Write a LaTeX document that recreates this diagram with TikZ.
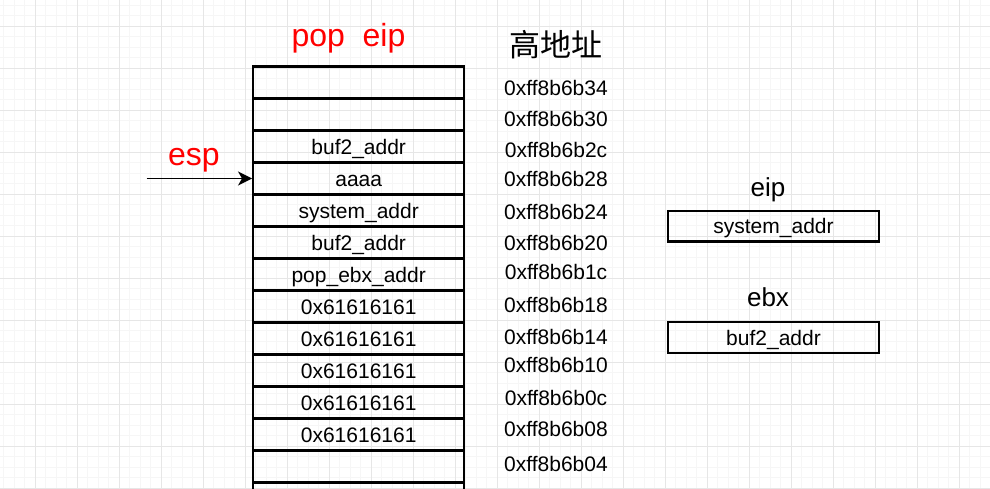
\documentclass[tikz,border=0pt]{standalone}
\usepackage{fontspec}
\setmainfont{Liberation Sans}
\newfontfamily\cjk{Noto Sans CJK SC}
\usetikzlibrary{arrows.meta}
\definecolor{gridminor}{HTML}{F6F6F6}
\definecolor{gridmajor}{HTML}{E6E6E6}
\definecolor{lblred}{HTML}{FF0000}
\begin{document}
\begin{tikzpicture}[x=1pt,y=-1pt,
  slot/.style={draw,line width=2.3pt,minimum width=211pt,minimum height=32pt,inner sep=0pt,
    text height=15pt,text depth=0pt,font=\fontsize{21}{25}\selectfont},
  regbox/.style={slot,minimum height=30.5pt},
  addr/.style={inner sep=0pt,text height=15pt,text depth=0pt,font=\fontsize{21}{25}\selectfont},
  redlbl/.style={anchor=base,inner sep=0pt,text=lblred,font=\fontsize{32}{38}\selectfont},
  reglbl/.style={anchor=base,inner sep=0pt,font=\fontsize{26}{31}\selectfont}]
\useasboundingbox (0,0) rectangle (990,488);
\clip (0,0) rectangle (990,488);
\fill[white] (0,0) rectangle (990,488);
%% grid
\foreach \i in {-4,...,92} \draw[gridminor,line width=1pt] (35+10.5*\i,0) -- (35+10.5*\i,488);
\foreach \j in {-3,...,44} \draw[gridminor,line width=1pt] (0,26+10.5*\j) -- (990,26+10.5*\j);
\foreach \i in {-1,...,23} \draw[gridmajor,line width=1pt] (35+42*\i,0) -- (35+42*\i,488);
\foreach \j in {-1,...,11} \draw[gridmajor,line width=1pt] (0,26+42*\j) -- (990,26+42*\j);
%% stack
\foreach \n/\txt in {1/{},2/{},3/buf2\_addr,4/aaaa,5/system\_addr,6/buf2\_addr,7/pop\_ebx\_addr,
  8/0x61616161,9/0x61616161,10/0x61616161,11/0x61616161,12/0x61616161,13/{},14/{}}
  \node[slot] (c\n) at (358.7,50.5+32*\n) {\txt};
%
\foreach \y/\a in {87.5/34,118.5/30,150.3/2c,179.3/28,211.7/24,243/20,272/1c,
  304.5/18,336.8/14,365.2/10,397.5/0c,429.2/08,464.3/04}
  \node[addr] (a\a) at (556,\y) {0xff8b6b\a};
\node[font=\cjk\fontsize{31}{37}\selectfont] (hiaddr) at (556,45) {高地址};
\node[redlbl] (popeip) at (348.5,46.7) {pop\ \ eip};
\node[redlbl] (esp) at (194,165) {esp};
%
\coordinate (espfrom) at (146.7,178.5);
\draw[line width=1.8pt,-{Stealth[length=14pt,width=14pt,inset=4pt]}] (espfrom) -- (c4.west);
%% registers
\node[regbox] (eipreg) at (773.5,226.2) {system\_addr};
\node[regbox] (ebxreg) at (773.5,337.5) {buf2\_addr};
\node[reglbl] (eiplbl) at (768,196) {eip};
\node[reglbl] (ebxlbl) at (768,306.7) {ebx};
\end{tikzpicture}
\end{document}
